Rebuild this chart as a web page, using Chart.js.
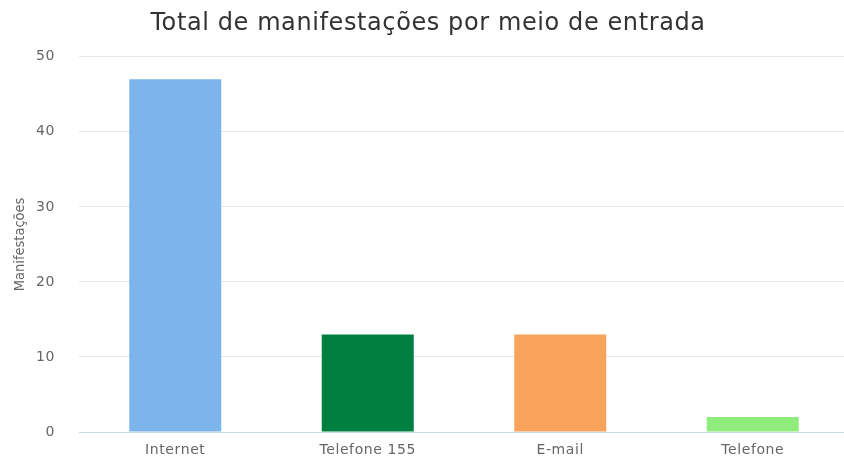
<!DOCTYPE html>
<html>
<head>
<meta charset="utf-8">
<script src="https://cdn.jsdelivr.net/npm/chart.js@4/dist/chart.umd.min.js"></script>
<style>
html,body{margin:0;padding:0;background:#fff;}
#c{display:block;}
</style>
</head>
<body>
<canvas id="c" width="844" height="457"></canvas>
<script>
const categories = ["Internet", "Telefone 155", "E-mail", "Telefone"];
const values = [47, 13, 13, 2];
const barColors = ["#7cb5ec", "#008040", "#f7a35c", "#90ed7d"];
const yTicks = [0, 10, 20, 30, 40, 50];

const spacingPlugin = {
  id: 'spacing',
  beforeUpdate(chart) { chart.ctx.letterSpacing = '0.6px'; },
  beforeLayout(chart) { chart.ctx.letterSpacing = '0.6px'; },
  afterLayout(chart) {
    const x = chart.scales.x;
    x.right = 849;
    x.width = x.right - x.left;
    x.configure();
    chart.chartArea.right = 849;
    chart.chartArea.width = chart.chartArea.right - chart.chartArea.left;
    const y = chart.scales.y;
    if (!y._noSpacingTitle) {
      const orig = y.drawTitle;
      y.drawTitle = function () {
        const ctx = this.ctx;
        const prev = ctx.letterSpacing;
        ctx.letterSpacing = '0px';
        orig.call(this);
        ctx.letterSpacing = prev;
      };
      y._noSpacingTitle = true;
    }
  },
  beforeDraw(chart) { chart.ctx.letterSpacing = '0.6px'; }
};

new Chart(document.getElementById('c'), {
  type: 'bar',
  plugins: [spacingPlugin],
  data: {
    labels: categories,
    datasets: [{
      data: values,
      backgroundColor: barColors,
      borderWidth: 0,
      categoryPercentage: 1,
      barPercentage: 0.478
    }]
  },
  options: {
    responsive: false,
    animation: false,
    layout: { padding: { left: 12, right: 0, top: 0, bottom: 0 } },
    plugins: {
      legend: { display: false },
      tooltip: { enabled: false },
      title: {
        display: true,
        text: "Total de manifestações por meio de entrada",
        color: "#333333",
        font: { family: "DejaVu Sans", size: 24, weight: "normal" },
        padding: { top: 9, bottom: 19 }
      }
    },
    scales: {
      x: {
        afterFit: (s) => { s.height = 25; },
        grid: { display: false, drawTicks: false },
        border: { display: true, color: "#ccd6eb", width: 1 },
        ticks: { color: "#666666", font: { family: "DejaVu Sans", size: 14 }, padding: 10 }
      },
      y: {
        min: 0, max: 50,
        afterBuildTicks: (s) => { s.ticks = yTicks.map(v => ({ value: v })); },
        afterFit: (s) => { s.width = 67; s.paddingBottom = 0; s.paddingTop = 0; },
        grid: { color: "#e6e6e6", drawTicks: false },
        border: { display: false },
        ticks: { color: "#666666", font: { family: "DejaVu Sans", size: 14 }, padding: 24 },
        title: {
          display: true,
          text: "Manifestações",
          color: "#666666",
          font: { family: "'DejaVu Sans'", size: 14.5, weight: "condensed" },
          padding: { top: 0, bottom: 0 }
        }
      }
    }
  }
});
</script>
</body>
</html>
